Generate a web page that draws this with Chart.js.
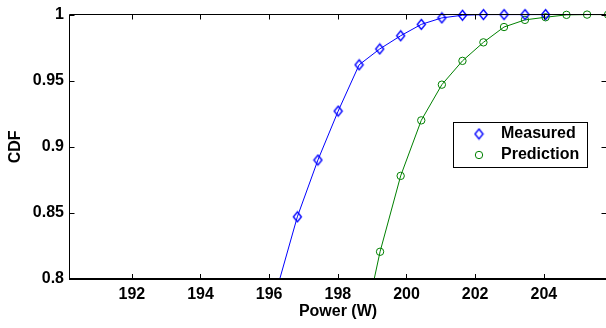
<!DOCTYPE html>
<html>
<head>
<meta charset="utf-8">
<script src="https://cdn.jsdelivr.net/npm/chart.js@4"></script>
<style>
  html, body { margin: 0; padding: 0; overflow: hidden; background: #fff; }
  canvas { display: block; }
</style>
</head>
<body>
<canvas id="myChart" width="612" height="328"></canvas>
<script>
// data
var seriesLabels = ['Measured', 'Prediction'];
var powerMeasured = [196.21, 196.82, 197.42, 198.01, 198.62, 199.22, 199.83, 200.43, 201.03, 201.63, 202.24, 202.84, 203.45, 204.05];
var cdfMeasured = [0.791, 0.847, 0.890, 0.927, 0.962, 0.974, 0.984, 0.9926, 0.9975, 0.9995, 1, 1, 1, 1];
var powerPredicted = [198.62, 199.23, 199.83, 200.43, 201.03, 201.63, 202.24, 202.84, 203.45, 204.05, 204.66, 205.26, 205.87];
var cdfPredicted = [0.747, 0.8206, 0.878, 0.920, 0.947, 0.965, 0.979, 0.9906, 0.996, 0.998, 0.9998, 1, 1];
var xTicks = [192, 194, 196, 198, 200, 202, 204];
var yTicks = [0.8, 0.85, 0.9, 0.95, 1];

function toPoints(xs, ys) {
  return xs.map(function (x, i) { return { x: x, y: ys[i] }; });
}

// matlab diamond marker, a little taller than wide
function diamond(color) {
  var c = document.createElement('canvas');
  c.width = 11; c.height = 13;
  var g = c.getContext('2d');
  g.strokeStyle = color;
  g.lineWidth = 1.4;
  g.beginPath();
  g.moveTo(5.5, 1.5); g.lineTo(9.5, 6.5); g.lineTo(5.5, 11.5); g.lineTo(1.5, 6.5);
  g.closePath();
  g.stroke();
  return c;
}

Chart.defaults.font.family = '"Liberation Sans", Arial, sans-serif';
Chart.defaults.font.size = 16;
Chart.defaults.font.weight = 'bold';
Chart.defaults.color = '#000';

// axes box with inward ticks + boxed legend
var boxPlugin = {
  id: 'box',
  afterDraw: function (chart) {
    var ctx = chart.ctx, a = chart.chartArea;
    var sx = chart.scales.x, sy = chart.scales.y;
    var l = Math.round(a.left) + 0.5, r = Math.round(a.right) - 0.5;
    var t = Math.round(a.top) - 0.5, b = Math.round(a.bottom);
    ctx.save();
    ctx.strokeStyle = '#000';
    ctx.lineWidth = 1;
    ctx.beginPath();
    ctx.moveTo(l, t); ctx.lineTo(r, t);
    ctx.moveTo(l, t); ctx.lineTo(l, b);
    ctx.moveTo(r, t); ctx.lineTo(r, b);
    xTicks.forEach(function (v) {
      var px = Math.round(sx.getPixelForValue(v)) + 0.5;
      ctx.moveTo(px, b); ctx.lineTo(px, b - 5);
      ctx.moveTo(px, t); ctx.lineTo(px, t + 5);
    });
    yTicks.forEach(function (v) {
      var py = Math.round(sy.getPixelForValue(v)) + 0.5;
      ctx.moveTo(l, py); ctx.lineTo(l + 5, py);
      ctx.moveTo(r, py); ctx.lineTo(r - 5, py);
    });
    ctx.stroke();
    ctx.lineWidth = 2;
    ctx.beginPath();
    ctx.moveTo(l - 0.5, b); ctx.lineTo(r + 0.5, b);
    ctx.stroke();

    // legend
    ctx.fillStyle = '#fff';
    ctx.fillRect(453.5, 122.5, 134, 45);
    ctx.lineWidth = 1;
    ctx.strokeRect(453.5, 122.5, 134, 45);
    var rows = [134, 155];
    chart.data.datasets.forEach(function (ds, i) {
      var y = rows[i];
      if (ds.pointStyle instanceof HTMLCanvasElement) {
        ctx.drawImage(ds.pointStyle, 479 - 5.5, y - 6.5);
      } else {
        ctx.strokeStyle = ds.pointBorderColor;
        ctx.beginPath();
        ctx.arc(479, y, ds.pointRadius, 0, Math.PI * 2);
        ctx.stroke();
      }
      ctx.fillStyle = '#000';
      ctx.font = 'bold 16px "Liberation Sans", Arial, sans-serif';
      ctx.textAlign = 'left';
      ctx.textBaseline = 'middle';
      ctx.fillText(ds.label, 501, y);
    });
    ctx.restore();
  }
};

var ctx = document.getElementById('myChart').getContext('2d');
var chart = new Chart(ctx, {
  type: 'scatter',
  data: {
    datasets: [{
      label: seriesLabels[0],
      data: toPoints(powerMeasured, cdfMeasured),
      showLine: true,
      borderColor: '#0000ff',
      borderWidth: 1,
      pointStyle: diamond('#0000ff'),
      pointRadius: 4,
      pointBorderColor: '#0000ff',
      pointBackgroundColor: 'rgba(0,0,0,0)',
      clip: { left: 0, right: 0, top: 10, bottom: 0 }
    }, {
      label: seriesLabels[1],
      data: toPoints(powerPredicted, cdfPredicted),
      showLine: true,
      borderColor: '#008000',
      borderWidth: 1,
      pointStyle: 'circle',
      pointRadius: 3.7,
      pointBorderWidth: 1,
      pointBorderColor: '#008000',
      pointBackgroundColor: 'rgba(0,0,0,0)',
      clip: { left: 0, right: 0, top: 10, bottom: 0 }
    }]
  },
  options: {
    responsive: false,
    animation: false,
    events: [],
    layout: { padding: { top: 10, right: 2, bottom: 0, left: 0 } },
    plugins: { legend: { display: false }, tooltip: { enabled: false } },
    scales: {
      x: {
        type: 'linear',
        min: 190.17,
        max: 205.84,
        grid: { display: false, drawTicks: false },
        border: { display: false },
        afterBuildTicks: function (s) { s.ticks = xTicks.map(function (v) { return { value: v }; }); },
        afterFit: function (s) { s.height = 49; },
        ticks: { padding: 6, maxRotation: 0, autoSkip: false, callback: function (v) { return String(v); } },
        title: { display: true, text: 'Power (W)', padding: { top: 0, bottom: 7 } }
      },
      y: {
        min: 0.8,
        max: 1,
        grid: { display: false, drawTicks: false },
        border: { display: false },
        afterBuildTicks: function (s) { s.ticks = yTicks.map(function (v) { return { value: v }; }); },
        afterFit: function (s) { s.width = 69; },
        ticks: { padding: 5, autoSkip: false, callback: function (v) { return String(v); } },
        title: { display: true, text: 'CDF', padding: { top: 6, bottom: 0 } }
      }
    }
  },
  plugins: [boxPlugin]
});
</script>
</body>
</html>
